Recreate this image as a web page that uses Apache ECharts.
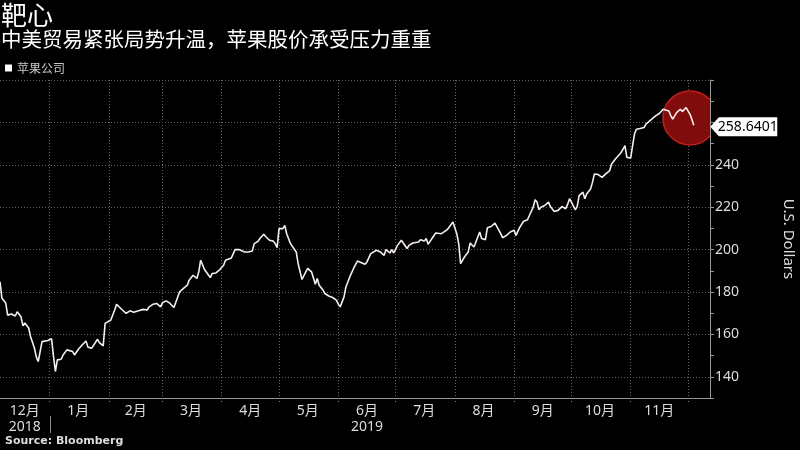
<!DOCTYPE html>
<html><head><meta charset="utf-8">
<script src="https://cdn.jsdelivr.net/npm/echarts@6/dist/echarts.min.js"></script>
<style>html,body{margin:0;padding:0;background:#000;}#c{width:800px;height:450px;}</style>
</head><body><div id="c"></div>
<script>
// ---- Data ----
const seriesName = '苹果公司';
const dates = [
 '2018-12-06','2018-12-07','2018-12-09','2018-12-10','2018-12-12','2018-12-14','2018-12-15','2018-12-17','2018-12-18','2018-12-19','2018-12-21','2018-12-22','2018-12-24','2018-12-25','2018-12-26','2018-12-28','2018-12-29','2018-12-31',
 '2019-01-01','2019-01-02','2019-01-03','2019-01-04','2019-01-05','2019-01-07','2019-01-08','2019-01-10','2019-01-11','2019-01-13','2019-01-14','2019-01-16','2019-01-18','2019-01-20','2019-01-21','2019-01-23','2019-01-24','2019-01-26','2019-01-27','2019-01-29','2019-01-30','2019-01-31',
 '2019-02-02','2019-02-04','2019-02-05','2019-02-06','2019-02-08','2019-02-10','2019-02-12','2019-02-14','2019-02-16','2019-02-19','2019-02-21','2019-02-22','2019-02-24','2019-02-26','2019-02-28',
 '2019-03-01','2019-03-03','2019-03-05','2019-03-07','2019-03-08','2019-03-10','2019-03-12','2019-03-14','2019-03-15','2019-03-17','2019-03-19','2019-03-20','2019-03-21','2019-03-23','2019-03-26','2019-03-27','2019-03-29','2019-03-31',
 '2019-04-02','2019-04-03','2019-04-06','2019-04-08','2019-04-10','2019-04-11','2019-04-13','2019-04-15','2019-04-17','2019-04-18','2019-04-20','2019-04-21','2019-04-23','2019-04-24','2019-04-26','2019-04-28','2019-04-29','2019-04-30',
 '2019-05-01','2019-05-02','2019-05-03','2019-05-04','2019-05-05','2019-05-07','2019-05-08','2019-05-10','2019-05-11','2019-05-13','2019-05-15','2019-05-16','2019-05-17','2019-05-18','2019-05-20','2019-05-21','2019-05-22','2019-05-24','2019-05-25','2019-05-27','2019-05-29','2019-05-30','2019-05-31',
 '2019-06-01','2019-06-02','2019-06-04','2019-06-05','2019-06-07','2019-06-09','2019-06-11','2019-06-12','2019-06-15','2019-06-16','2019-06-18','2019-06-19','2019-06-21','2019-06-23','2019-06-25','2019-06-26','2019-06-28','2019-06-29','2019-06-30',
 '2019-07-02','2019-07-04','2019-07-05','2019-07-07','2019-07-08','2019-07-10','2019-07-11','2019-07-13','2019-07-14','2019-07-16','2019-07-17','2019-07-18','2019-07-20','2019-07-22','2019-07-23','2019-07-25','2019-07-26','2019-07-28','2019-07-29','2019-07-31',
 '2019-08-02','2019-08-03','2019-08-04','2019-08-06','2019-08-08','2019-08-09','2019-08-11','2019-08-12','2019-08-14','2019-08-15','2019-08-17','2019-08-18','2019-08-20','2019-08-22','2019-08-23','2019-08-25','2019-08-26','2019-08-28','2019-08-30',
 '2019-09-01','2019-09-02','2019-09-04','2019-09-06','2019-09-08','2019-09-09','2019-09-11','2019-09-12','2019-09-13','2019-09-14','2019-09-15','2019-09-17','2019-09-19','2019-09-20','2019-09-22','2019-09-24','2019-09-25','2019-09-26','2019-09-28','2019-09-29','2019-09-30',
 '2019-10-01','2019-10-03','2019-10-04','2019-10-05','2019-10-07','2019-10-08','2019-10-09','2019-10-11','2019-10-12','2019-10-13','2019-10-14','2019-10-15','2019-10-17','2019-10-19','2019-10-21','2019-10-22','2019-10-23','2019-10-24','2019-10-25','2019-10-27','2019-10-28','2019-10-29','2019-10-30',
 '2019-11-01','2019-11-02','2019-11-03','2019-11-04','2019-11-06','2019-11-08','2019-11-09','2019-11-10','2019-11-12','2019-11-13','2019-11-14','2019-11-15','2019-11-16','2019-11-17','2019-11-18','2019-11-19','2019-11-21','2019-11-22','2019-11-23','2019-11-24','2019-11-25','2019-11-26','2019-11-27','2019-11-28','2019-11-30',
 '2019-12-01','2019-12-02','2019-12-03','2019-12-04'
];
const prices = [
 184.8,177.1,174.8,169.1,169.6,168.7,170.7,168.3,164.0,165.4,163.0,158.9,153.6,149.4,147.2,156.6,156.6,157.1,
 157.9,157.9,149.5,142.5,148.0,148.3,150.3,152.7,153.5,151.9,150.3,153.0,155.0,156.9,154.0,153.5,153.0,157.7,156.1,154.6,165.2,166.0,
 166.8,171.5,174.2,174.2,171.5,169.9,171.1,170.4,171.0,171.8,171.5,173.0,174.2,174.6,173.0,
 174.9,175.8,174.6,172.7,173.0,180.1,181.7,183.2,185.6,187.9,186.4,189.5,195.0,190.6,186.8,188.7,189.0,190.6,
 192.6,195.0,196.0,200.0,200.0,200.5,198.9,198.9,199.3,202.8,203.9,205.2,207.2,206.2,204.4,204.0,202.8,200.9,
 209.9,210.6,209.9,211.4,207.5,202.8,202.0,198.9,193.4,185.9,189.5,191.1,190.3,189.5,183.7,186.4,183.2,180.9,179.3,178.1,177.4,178.1,176.2,
 174.3,173.0,177.7,182.4,187.1,191.1,194.6,194.2,193.1,194.2,198.1,198.9,199.7,198.9,197.3,200.0,198.4,200.0,198.4,
 202.0,204.4,203.6,200.5,202.0,203.1,202.3,203.6,204.7,204.0,205.2,202.5,205.2,207.8,208.7,207.5,208.3,209.4,208.7,213.0,
 207.5,202.8,193.4,196.5,198.9,203.1,201.2,200.5,208.3,205.2,204.7,210.3,210.9,212.5,212.2,207.5,205.6,206.7,208.3,
 209.1,206.7,210.6,213.4,214.1,216.1,220.0,223.5,222.4,218.8,220.0,220.8,222.4,220.3,218.0,218.5,217.7,220.3,219.3,221.3,224.0,
 222.4,218.8,220.3,225.5,227.1,224.0,226.3,228.6,231.7,235.7,235.7,235.4,234.1,235.7,237.2,240.4,240.7,242.7,243.5,245.8,247.4,249.0,243.5,
 243.2,249.0,254.5,256.8,257.1,257.6,259.2,259.9,261.5,262.0,263.1,262.3,264.2,264.6,266.2,267.0,265.4,263.1,261.5,262.0,264.6,263.9,266.2,265.1,267.0,
 267.0,263.9,261.5,258.6401
];
const monthTicks = ['2019-01-01','2019-02-01','2019-03-01','2019-04-01','2019-05-01','2019-06-01','2019-07-01','2019-08-01','2019-09-01','2019-10-01','2019-11-01','2019-12-01'];
const monthLabelAt = ['2018-12-19','2019-01-16','2019-02-15','2019-03-16','2019-04-16','2019-05-16','2019-06-16','2019-07-16','2019-08-16','2019-09-16','2019-10-16','2019-11-16'];
const yearLabels = { '2018-12': '2018', '2019-06': '2019' };
const xRange = ['2018-12-06', '2019-12-12 12:00'];
const yRange = [130, 280];
const yLabelValues = [140, 160, 180, 200, 220, 240];
const highlight = ['2019-12-02', 262.1];
const lastLabel = '258.6401';

const FONT = "'Noto Sans', 'Noto Sans CJK SC', sans-serif";
const CJK = "'Noto Sans CJK SC', sans-serif";
const GRID = '#646464';
const T = s => echarts.time.parse(s).getTime();
const chart = echarts.init(document.getElementById('c'), null, { renderer: 'canvas' });
const lineData = dates.map((d, i) => [T(d), prices[i]]);
const last = lineData[lineData.length - 1];

chart.setOption({
  backgroundColor: '#000',
  animation: false,
  title: [
    { text: '靶心', left: 1, top: 2, padding: 0, textStyle: { color: '#fff', fontSize: 26, fontWeight: 'normal', fontFamily: CJK } },
    { text: '中美贸易紧张局势升温，苹果股价承受压力重重', left: 1, top: 29, padding: 0, textStyle: { color: '#fff', fontSize: 20.5, fontWeight: 'normal', fontFamily: CJK } },
    { text: 'Source: Bloomberg', left: 5, top: 436, padding: 0, textStyle: { color: '#ddd', fontSize: 11, fontWeight: 'bold', fontFamily: "'DejaVu Sans', sans-serif" } }
  ],
  legend: {
    data: [seriesName], left: 5, top: 62, padding: 0, icon: 'rect', itemWidth: 7, itemHeight: 7, itemGap: 5,
    textStyle: { color: '#c8c8c8', fontSize: 12, fontFamily: CJK },
    selectedMode: false
  },
  grid: { left: 0, right: 90, top: 80, bottom: 52, containLabel: false, outerBoundsMode: 'none' },
  xAxis: {
    type: 'value', min: T(xRange[0]), max: T(xRange[1]), scale: true,
    axisLine: { show: true, lineStyle: { color: '#999', width: 1 } },
    axisTick: { show: true, customValues: monthTicks.map(T), length: 6, lineStyle: { color: '#888', type: [1, 2], width: 1 } },
    splitLine: { show: true, lineStyle: { color: GRID, type: [1, 2], width: 1 } },
    axisLabel: {
      customValues: monthLabelAt.map(T), color: '#ddd', fontSize: 14, fontFamily: FONT, lineHeight: 16, margin: 5,
      formatter: function (v) {
        const dt = new Date(v);
        const key = dt.getFullYear() + '-' + String(dt.getMonth() + 1).padStart(2, '0');
        const m = (dt.getMonth() + 1) + '月';
        return yearLabels[key] ? m + '\n' + yearLabels[key] : m;
      }
    }
  },
  yAxis: {
    type: 'value', position: 'right', min: yRange[0], max: yRange[1], interval: 10,
    name: 'U.S. Dollars', nameLocation: 'middle', nameRotate: -90, nameGap: 71,
    nameTextStyle: { color: '#ddd', fontSize: 15, fontFamily: FONT },
    axisLine: { show: true, lineStyle: { color: '#999', width: 1 } },
    axisTick: { show: true, length: 4, lineStyle: { color: '#999' } },
    splitLine: { show: true, lineStyle: { color: ['rgba(0,0,0,0)', GRID], type: [1, 2], width: 1 } },
    axisLabel: {
      color: '#ddd', fontSize: 14, fontFamily: FONT, margin: 5,
      formatter: function (v) { return yLabelValues.indexOf(v) >= 0 ? String(v) : ''; }
    }
  },
  series: [
    {
      type: 'custom', name: 'highlight', data: [[T(highlight[0]), highlight[1]]], clip: true, z: 1, silent: true,
      renderItem: function (params, api) {
        const c = api.coord([api.value(0), api.value(1)]);
        return {
          type: 'circle', shape: { cx: c[0], cy: c[1], r: 27 },
          style: { fill: '#800c0c', stroke: '#c41c1c', lineWidth: 1.5 }
        };
      }
    },
    {
      type: 'line', name: seriesName, data: lineData, showSymbol: false, symbol: 'none', z: 3,
      lineStyle: { color: '#f6eeee', width: 1.6 }, itemStyle: { color: '#fff' },
      markPoint: {
        silent: true, z: 10,
        symbol: 'path://M0,10 L9,0 L70,0 L70,20 L9,20 Z', symbolKeepAspect: false,
        symbolSize: [67, 19], symbolOffset: [50, 1.5],
        itemStyle: { color: '#fff' },
        label: { show: true, position: 'inside', offset: [4, 0], color: '#000', fontSize: 14, fontFamily: FONT, formatter: lastLabel },
        data: [{ coord: last, value: last[1] }]
      }
    }
  ]
});

// year separator below the axis at the 2018/2019 boundary
const sepX = chart.convertToPixel({ xAxisIndex: 0 }, T(monthTicks[0]));
chart.setOption({
  graphic: [{ type: 'line', silent: true, shape: { x1: Math.round(sepX) + 0.5, y1: 416, x2: Math.round(sepX) + 0.5, y2: 433 }, style: { stroke: '#888', lineWidth: 1 } }]
});
</script>
</body></html>
